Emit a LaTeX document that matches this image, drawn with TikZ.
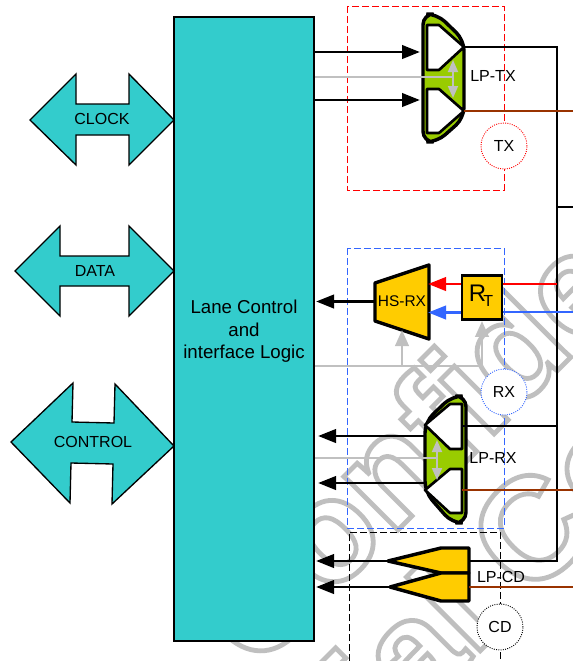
\documentclass[tikz,border=0pt]{standalone}
\usepackage{fontspec}
\setmainfont{Liberation Sans}
\newfontfamily\markfont{Liberation Sans Bold}
\usetikzlibrary{arrows.meta, positioning, calc}
\definecolor{inkteal}{HTML}{33CCCC}
\definecolor{inkgold}{HTML}{FFCC00}
\definecolor{inkgreen}{HTML}{99CC00}
\definecolor{inkbrown}{HTML}{993300}
\definecolor{inkblue}{HTML}{3366FF}
\definecolor{inkgray}{HTML}{C0C0C0}
\tikzset{
  sigline/.style={line width=2.2pt, black},
  sigarrow/.style={sigline, -{Triangle[length=13.5pt,width=10pt]}},
  ctlline/.style={line width=2.2pt, inkgray},
  ctlarrow/.style={ctlline, -{Triangle[length=12pt,width=10pt]}},
  ctlboth/.style={line width=1.4pt, inkgray, {Triangle[length=9pt,width=7.5pt]}-{Triangle[length=9pt,width=7.5pt]}},
  padbox/.style={line width=0.6pt, dash pattern=on 5pt off 2.5pt},
  padmark/.style={circle, draw, densely dotted, line width=0.7pt, fill=white,
        minimum size=34.5pt, inner sep=0pt},
  lpbody/.style={draw=black, fill=inkgreen, line width=2.6pt, rounded corners=8pt},
  lpgate/.style={draw=black, fill=white, line width=2pt, line join=round},
  goldgate/.style={draw=black, fill=inkgold, line width=2.6pt, line join=round},
  busarrow/.style={draw=black, fill=inkteal, line width=1pt},
  buslabel/.style={inner sep=0pt},
  brownline/.style={line width=2.2pt, inkbrown},
}
% outlined watermark text
\newcommand{\wmtext}[1]{\markfont\fontsize{108pt}{108pt}\selectfont
  \special{pdf:code q 1 Tr 3.6 w 0.75 G}#1\special{pdf:code Q}}

\begin{document}
\begin{tikzpicture}[x=0.75pt, y=-0.75pt, font=\fontsize{12pt}{14pt}\selectfont]
  \useasboundingbox (0,0) rectangle (573,661);
  \fill[white] (0,0) rectangle (573,661);
  \begin{scope}
    \clip (0,0) rectangle (573,661);
    \node[rotate=45, anchor=base west, inner sep=0pt] (mark1) at (255,673) {\wmtext{Confidential}};
    \node[rotate=45, anchor=base west, inner sep=0pt] (mark2) at (-87,1218) {\wmtext{Confidential Confidential}};
  \end{scope}

  % pad frames
  \draw[padbox, red] (347,6) rectangle (504,190);
  \draw[padbox, inkblue] (347,248) rectangle (504,528);
  \draw[padbox, black] (349,661) -- (349,532) -- (500,532) -- (500,661);

  \node[padmark, draw=red] (txmark) at (504,146) {TX};
  \node[padmark, draw=inkblue] (rxmark) at (504,392) {RX};
  \node[padmark, draw=black] (cdmark) at (500,627) {CD};

  % logic block and buses
  \node[draw=black, fill=inkteal, line width=2.2pt, minimum width=105pt, minimum height=468pt,
        align=center, font=\fontsize{14pt}{17pt}\selectfont] (block) at (244,329)
        {\rule{0pt}{13.5pt}Lane Control\\and\\interface Logic};
  \draw[busarrow] (30,120) -- (76,74) -- (76,104) -- (129,104) -- (129,74) -- (174,120)
        -- (129,165) -- (129,135) -- (76,135) -- (76,165) -- cycle;
  \draw[busarrow] (15,271) -- (60,226) -- (60,256) -- (129,256) -- (129,226) -- (174,271)
        -- (129,316) -- (129,286) -- (60,286) -- (60,316) -- cycle;
  \draw[busarrow] (11,442) -- (73,383) -- (72,422) -- (114,423) -- (115,384) -- (174,446)
        -- (112,504) -- (113,464) -- (71,463) -- (70,503) -- cycle;
  \node[buslabel] (clock) at (102,119) {CLOCK};
  \node[buslabel] (data) at (95,271) {DATA};
  \node[buslabel] (control) at (93,442) {CONTROL};

  % output rail
  \coordinate (railtop) at (557,47);
  \coordinate (railbot) at (557,561);
  \coordinate (railout) at (573,207);
  \draw[sigline, line join=miter] (464,47) -- (railtop) -- (railbot) -- (470,561);
  \draw[sigline] (railout) -- (railout -| railtop);

  % LP-TX
  \coordinate (txa) at (420,52);
  \coordinate (txb) at (420,100);
  \coordinate (txc) at (452,77);
  \draw[lpbody] (423,14) -- (437,14) -- (464,40) -- (464,118) -- (437,142) -- (423,142) -- cycle;
  \draw[lpgate] (427,25) -- (439,25) -- (464,47) -- (439,70) -- (427,70) -- cycle;
  \draw[lpgate] (427,89) -- (439,89) -- (464,111) -- (439,133) -- (427,133) -- cycle;
  \draw[sigarrow] (block.east |- txa) -- (txa);
  \draw[sigarrow] (block.east |- txb) -- (txb);
  \draw[ctlline] (block.east |- txc) -- (txc);
  \draw[ctlboth] (453,60) -- (453,98);
  \draw[brownline] (464,111) -- (573,111);
  \node[inner sep=0pt] (lptx) at (493,76) {LP-TX};

  % HS-RX with termination
  \draw[goldgate] (375,283) -- (429,265) -- (429,339) -- (375,321) -- cycle;
  \node[inner sep=0pt, font=\fontsize{11.6pt}{14pt}\selectfont] (hsrx) at (402,301) {HS-RX};
  \node[draw=black, fill=inkgold, line width=2.2pt, minimum width=30pt, minimum height=33pt,
        inner sep=0pt] (rt) at (482,297.5) {};
  \node[inner sep=0pt, font=\fontsize{18pt}{20pt}\selectfont] (rtlabel) at (481,296) {R\kern-2pt\raisebox{-3.5pt}{\fontsize{12pt}{14pt}\selectfont T}};
  \coordinate (hsout) at (316,301.5);
  \coordinate (redin) at (428,284);
  \coordinate (bluein) at (428,312.5);
  \coordinate (redout) at (557,284);
  \coordinate (blueout) at (573,312);
  \draw[sigarrow] (375,301.5) -- (hsout);
  \draw[line width=2.2pt, red, -{Triangle[length=13.5pt,width=10pt]}] (rt.west |- redin) -- (redin);
  \draw[line width=2.2pt, inkblue, -{Triangle[length=13.5pt,width=10pt]}] (rt.west |- bluein) -- (bluein);
  \draw[line width=2.2pt, red] (rt.east |- redout) -- (redout);
  \draw[line width=2.2pt, inkblue] (rt.east |- blueout) -- (blueout);
  \coordinate (ctlbus) at (402,366);
  \draw[ctlarrow] (block.east |- ctlbus) -- (ctlbus) -- (402,330);
  \draw[ctlarrow] (ctlbus) -- (rt.south |- ctlbus) -- (rt.south);

  % LP-RX
  \coordinate (rxa) at (318,436);
  \coordinate (rxb) at (318,483);
  \coordinate (rxc) at (437,458);
  \draw[lpbody] (466,396) -- (452,396) -- (425,422) -- (425,492) -- (452,523) -- (466,523) -- cycle;
  \draw[lpgate] (462,404) -- (450,404) -- (425,425) -- (450,449) -- (462,449) -- cycle;
  \draw[lpgate] (462,469) -- (450,469) -- (425,490) -- (450,513) -- (462,513) -- cycle;
  \draw[sigarrow] (425,436) -- (rxa);
  \draw[sigarrow] (425,483) -- (rxb);
  \draw[ctlline] (block.east |- rxc) -- (rxc);
  \draw[ctlboth] (437,440) -- (437,480);
  \draw[sigline] (462,426) -- (557,426);
  \draw[brownline] (462,490) -- (573,490);
  \node[inner sep=0pt] (lprx) at (493,458) {LP-RX};

  % LP-CD
  \coordinate (cda) at (316,561);
  \coordinate (cdb) at (316,587);
  \draw[goldgate] (388,561) -- (441,548) -- (469,548) -- (469,573) -- (441,573) -- cycle;
  \draw[goldgate] (390,587) -- (441,573) -- (469,573) -- (469,601) -- (441,601) -- cycle;
  \draw[sigarrow] (388,561) -- (cda);
  \draw[sigarrow] (390,587) -- (cdb);
  \draw[brownline] (469,587) -- (573,587);
  \node[inner sep=0pt] (lpcd) at (501,577) {LP-CD};
\end{tikzpicture}
\end{document}
